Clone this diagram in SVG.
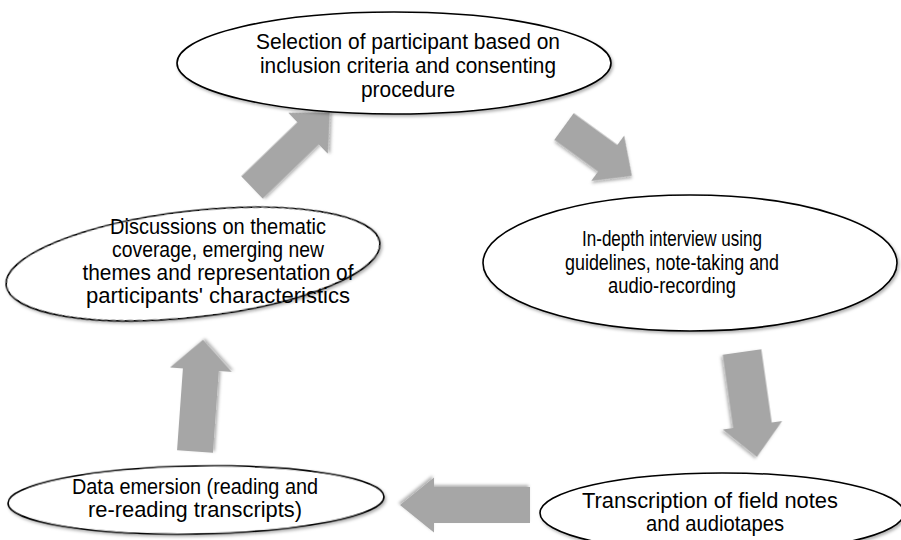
<svg xmlns="http://www.w3.org/2000/svg" width="901" height="540" viewBox="0 0 901 540">
<style>
.node ellipse{fill:#fff;stroke:#000;stroke-width:1.6;filter:url(#sh)}
.node text{font-family:"Liberation Sans",Arial,sans-serif;font-size:22px;fill:#000;text-anchor:middle}
.arrow{fill:#a6a6a6;filter:url(#sh)}
</style>
<defs>
<filter id="sh" x="-20%" y="-20%" width="140%" height="140%">
<feDropShadow dx="1.5" dy="2" stdDeviation="1.5" flood-color="#000" flood-opacity="0.3"/>
</filter>
</defs>
<rect width="901" height="540" fill="#fff"/>
<g id="connectors">
<polygon class="arrow" transform="translate(252,187.5) rotate(-44)" points="0,-15.5 78,-15.5 78,-28.5 108,0 78,28.5 78,15.5 0,15.5"/>
<polygon class="arrow" transform="translate(564,126.5) rotate(36)" points="0,-16.5 54,-16.5 54,-28 84,0 54,28 54,16.5 0,16.5"/>
<polygon class="arrow" transform="translate(742,352) rotate(81.9)" points="0,-19.5 74,-19.5 74,-30 106,0 74,30 74,19.5 0,19.5"/>
<polygon class="arrow" transform="translate(530,505) rotate(180)" points="0,-18 96,-18 96,-27.5 130,0 96,27.5 96,18 0,18"/>
<polygon class="arrow" transform="translate(195,451.5) rotate(-85.9)" points="0,-18 82,-18 82,-31 112,0 82,31 82,18 0,18"/>
</g>
<g id="node-selection" class="node">
<ellipse cx="394" cy="63" rx="217" ry="51"/>
<text x="408" y="49" textLength="304" lengthAdjust="spacingAndGlyphs">Selection of participant based on</text>
<text x="408" y="73" textLength="296" lengthAdjust="spacingAndGlyphs">inclusion criteria and consenting</text>
<text x="408" y="97" textLength="94" lengthAdjust="spacingAndGlyphs">procedure</text>
</g>
<g id="node-interview" class="node">
<ellipse cx="690" cy="263" rx="207" ry="68"/>
<text x="672" y="246" textLength="180" lengthAdjust="spacingAndGlyphs">In-depth interview using</text>
<text x="672" y="270" textLength="214" lengthAdjust="spacingAndGlyphs">guidelines, note-taking and</text>
<text x="672" y="293" textLength="128" lengthAdjust="spacingAndGlyphs">audio-recording</text>
</g>
<g id="node-transcription" class="node">
<ellipse cx="722" cy="513" rx="182" ry="40"/>
<text x="710" y="508" textLength="256" lengthAdjust="spacingAndGlyphs">Transcription of field notes</text>
<text x="715" y="531" textLength="138" lengthAdjust="spacingAndGlyphs">and audiotapes</text>
</g>
<g id="node-emersion" class="node">
<ellipse cx="196" cy="500" rx="188" ry="34" transform="rotate(-1 196 500)"/>
<text x="195" y="494" textLength="246" lengthAdjust="spacingAndGlyphs">Data emersion (reading and</text>
<text x="195" y="517" textLength="214" lengthAdjust="spacingAndGlyphs">re-reading transcripts)</text>
</g>
<g id="node-discussions" class="node">
<ellipse cx="193" cy="264" rx="188" ry="53" transform="rotate(-6.5 193 264)"/>
<text x="218" y="234" textLength="216" lengthAdjust="spacingAndGlyphs">Discussions on thematic</text>
<text x="218" y="257" textLength="212" lengthAdjust="spacingAndGlyphs">coverage, emerging new</text>
<text x="218" y="280" textLength="271" lengthAdjust="spacingAndGlyphs">themes and representation of</text>
<text x="218" y="303" textLength="264" lengthAdjust="spacingAndGlyphs">participants' characteristics</text>
</g>
</svg>
